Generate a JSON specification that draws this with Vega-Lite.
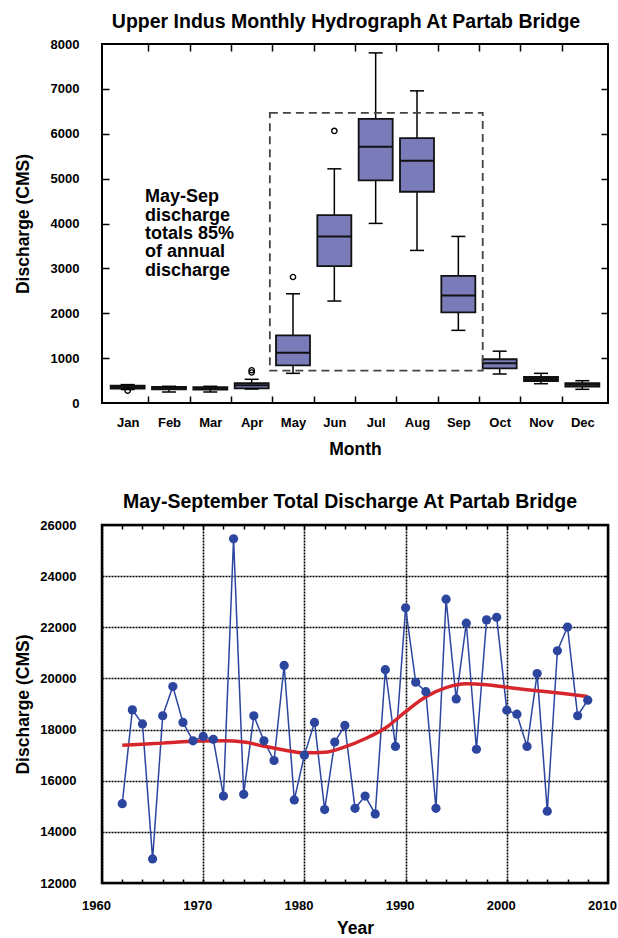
{
  "$schema": "https://vega.github.io/schema/vega-lite/v6.json",
  "background": "white",
  "padding": {"left": 12, "top": 10, "right": 0, "bottom": 0},
  "config": {
    "font": "Liberation Sans",
    "axis": {"domain": false, "grid": false, "labelFont": "Liberation Sans", "labelFontWeight": "bold", "labelFontSize": 13, "labelColor": "#000", "titleFont": "Liberation Sans", "titleFontSize": 17.5, "titleFontWeight": "bold", "titleColor": "#000", "tickColor": "#000", "tickWidth": 1.5, "labelOverlap": false, "labelFlush": false}
  },
  "datasets": {
    "boxes": [
      {"month": 1, "lower": 300, "q1": 320, "median": 355, "q3": 385, "upper": 410},
      {"month": 2, "lower": 245, "q1": 305, "median": 330, "q3": 357, "upper": 372},
      {"month": 3, "lower": 245, "q1": 300, "median": 325, "q3": 355, "upper": 372},
      {"month": 4, "lower": 312, "q1": 327, "median": 394, "q3": 445, "upper": 528},
      {"month": 5, "lower": 661, "q1": 839, "median": 1120, "q3": 1507, "upper": 2434},
      {"month": 6, "lower": 2272, "q1": 3051, "median": 3712, "q3": 4187, "upper": 5218},
      {"month": 7, "lower": 4002, "q1": 4960, "median": 5708, "q3": 6332, "upper": 7802},
      {"month": 8, "lower": 3400, "q1": 4707, "median": 5397, "q3": 5902, "upper": 6956},
      {"month": 9, "lower": 1619, "q1": 2020, "median": 2398, "q3": 2835, "upper": 3712},
      {"month": 10, "lower": 646, "q1": 770, "median": 884, "q3": 975, "upper": 1155},
      {"month": 11, "lower": 430, "q1": 490, "median": 534, "q3": 579, "upper": 661},
      {"month": 12, "lower": 305, "q1": 363, "median": 408, "q3": 445, "upper": 497}
    ],
    "outliers": [
      {"month": 1, "value": 275},
      {"month": 4, "value": 680},
      {"month": 4, "value": 730},
      {"month": 5, "value": 2808},
      {"month": 6, "value": 6062}
    ],
    "hydro": [
      {"year": 1962, "q": 15100}, {"year": 1963, "q": 18770}, {"year": 1964, "q": 18220},
      {"year": 1965, "q": 12940}, {"year": 1966, "q": 18540}, {"year": 1967, "q": 19680},
      {"year": 1968, "q": 18280}, {"year": 1969, "q": 17560}, {"year": 1970, "q": 17730},
      {"year": 1971, "q": 17620}, {"year": 1972, "q": 15400}, {"year": 1973, "q": 25460},
      {"year": 1974, "q": 15470}, {"year": 1975, "q": 18540}, {"year": 1976, "q": 17560},
      {"year": 1977, "q": 16790}, {"year": 1978, "q": 20510}, {"year": 1979, "q": 15250},
      {"year": 1980, "q": 17000}, {"year": 1981, "q": 18280}, {"year": 1982, "q": 14870},
      {"year": 1983, "q": 17510}, {"year": 1984, "q": 18160}, {"year": 1985, "q": 14920},
      {"year": 1986, "q": 15400}, {"year": 1987, "q": 14700}, {"year": 1988, "q": 20340},
      {"year": 1989, "q": 17340}, {"year": 1990, "q": 22760}, {"year": 1991, "q": 19850},
      {"year": 1992, "q": 19480}, {"year": 1993, "q": 14920}, {"year": 1994, "q": 23100},
      {"year": 1995, "q": 19200}, {"year": 1996, "q": 22160}, {"year": 1997, "q": 17230},
      {"year": 1998, "q": 22290}, {"year": 1999, "q": 22390}, {"year": 2000, "q": 18760},
      {"year": 2001, "q": 18600}, {"year": 2002, "q": 17340}, {"year": 2003, "q": 20190},
      {"year": 2004, "q": 14810}, {"year": 2005, "q": 21080}, {"year": 2006, "q": 22010},
      {"year": 2007, "q": 18540}, {"year": 2008, "q": 19150}
    ],
    "trend": [
      {"year": 1962, "q": 17390}, {"year": 1964, "q": 17430}, {"year": 1966, "q": 17470},
      {"year": 1968, "q": 17520}, {"year": 1970, "q": 17550}, {"year": 1972, "q": 17560},
      {"year": 1974, "q": 17510}, {"year": 1976, "q": 17350}, {"year": 1978, "q": 17200},
      {"year": 1980, "q": 17090}, {"year": 1982, "q": 17110}, {"year": 1984, "q": 17320},
      {"year": 1986, "q": 17640}, {"year": 1988, "q": 18060}, {"year": 1990, "q": 18700},
      {"year": 1992, "q": 19280}, {"year": 1994, "q": 19640}, {"year": 1996, "q": 19790},
      {"year": 1998, "q": 19750}, {"year": 2000, "q": 19650}, {"year": 2002, "q": 19560},
      {"year": 2004, "q": 19480}, {"year": 2006, "q": 19390}, {"year": 2008, "q": 19290}
    ],
    "frame": [{"x1": 4.44, "x2": 9.59, "y1": 720, "y2": 6465}],
    "note": [{"text": "May-Sep\ndischarge\ntotals 85%\nof annual\ndischarge"}]
  },
  "bounds": "flush",
  "spacing": 122,
  "vconcat": [
    {
      "width": 506,
      "height": 359,
      "view": {"stroke": "#000", "strokeWidth": 2},
      "title": {"text": "Upper Indus Monthly Hydrograph At Partab Bridge", "fontSize": 19.5, "fontWeight": "bold", "color": "#000", "anchor": "middle", "baseline": "alphabetic", "offset": 17, "dy": 26, "dx": -9},
      "resolve": {"axis": {"x": "independent", "y": "independent"}},
      "layer": [
        {
          "data": {"name": "boxes"},
          "mark": {"type": "rule", "color": "#000", "strokeWidth": 1.5},
          "encoding": {
            "x": {"field": "month", "type": "quantitative", "scale": {"domain": [0.5, 12.5], "nice": false, "zero": false},
              "axis": {"orient": "bottom", "values": [1,2,3,4,5,6,7,8,9,10,11,12], "labelExpr": "['','Jan','Feb','Mar','Apr','May','Jun','Jul','Aug','Sep','Oct','Nov','Dec'][datum.value]", "ticks": false, "labelPadding": 23.5, "labelBaseline": "alphabetic", "title": "Month", "titleY": 51, "titleBaseline": "alphabetic"}},
            "y": {"field": "lower", "type": "quantitative", "scale": {"domain": [0, 8000], "nice": false, "zero": false},
              "axis": {"orient": "left", "values": [0,1000,2000,3000,4000,5000,6000,7000,8000], "format": "d", "ticks": false, "labelPadding": 23, "labelBaseline": "middle", "title": "Discharge (CMS)", "titleX": -74, "titleBaseline": "alphabetic", "titleAngle": -90}},
            "y2": {"field": "upper"}
          }
        },
        {
          "data": {"name": "boxes"},
          "mark": {"type": "bar", "fill": "#7A7CB9", "stroke": "#111", "strokeWidth": 1.8, "width": 34},
          "encoding": {
            "x": {"field": "month", "type": "quantitative",
              "axis": {"orient": "bottom", "values": [1.5,2.5,3.5,4.5,5.5,6.5,7.5,8.5,9.5,10.5,11.5], "labels": false, "tickSize": -7, "title": null}},
            "y": {"field": "q1", "type": "quantitative",
              "axis": {"orient": "left", "values": [1000,2000,3000,4000,5000,6000,7000], "labels": false, "tickSize": -7, "title": null}},
            "y2": {"field": "q3"}
          }
        },
        {
          "data": {"name": "boxes"},
          "mark": {"type": "tick", "orient": "horizontal", "size": 34, "thickness": 2, "color": "#111", "opacity": 1},
          "encoding": {
            "x": {"field": "month", "type": "quantitative",
              "axis": {"orient": "top", "values": [1.5,2.5,3.5,4.5,5.5,6.5,7.5,8.5,9.5,10.5,11.5], "labels": false, "tickSize": -7, "title": null}},
            "y": {"field": "median", "type": "quantitative",
              "axis": {"orient": "right", "values": [1000,2000,3000,4000,5000,6000,7000], "labels": false, "tickSize": -7, "title": null}}
          }
        },
        {
          "data": {"name": "boxes"},
          "mark": {"type": "tick", "orient": "horizontal", "size": 14, "thickness": 1.5, "color": "#000", "opacity": 1},
          "encoding": {
            "x": {"field": "month", "type": "quantitative", "axis": null},
            "y": {"field": "upper", "type": "quantitative", "axis": null}
          }
        },
        {
          "data": {"name": "boxes"},
          "mark": {"type": "tick", "orient": "horizontal", "size": 14, "thickness": 1.5, "color": "#000", "opacity": 1},
          "encoding": {
            "x": {"field": "month", "type": "quantitative", "axis": null},
            "y": {"field": "lower", "type": "quantitative", "axis": null}
          }
        },
        {
          "data": {"name": "outliers"},
          "mark": {"type": "point", "filled": false, "stroke": "#000", "strokeWidth": 1.4, "size": 28, "opacity": 1},
          "encoding": {
            "x": {"field": "month", "type": "quantitative", "axis": null},
            "y": {"field": "value", "type": "quantitative", "axis": null}
          }
        },
        {
          "data": {"name": "frame"},
          "mark": {"type": "rect", "fill": null, "fillOpacity": 0, "stroke": "#444", "strokeWidth": 1.8, "strokeDash": [8, 5]},
          "encoding": {
            "x": {"field": "x1", "type": "quantitative", "axis": null},
            "x2": {"field": "x2"},
            "y": {"field": "y1", "type": "quantitative", "axis": null},
            "y2": {"field": "y2"}
          }
        },
        {
          "data": {"name": "note"},
          "mark": {"type": "text", "align": "left", "baseline": "top", "fontSize": 18, "fontWeight": "bold", "color": "#000", "lineBreak": "\n", "lineHeight": 18.3},
          "encoding": {
            "x": {"datum": 1.42, "type": "quantitative", "axis": null},
            "y": {"datum": 4780, "type": "quantitative", "axis": null},
            "text": {"field": "text"}
          }
        }
      ]
    },
    {
      "width": 506,
      "height": 358,
      "view": {"stroke": "#000", "strokeWidth": 2.5},
      "title": {"text": "May-September Total Discharge At Partab Bridge", "fontSize": 19.5, "fontWeight": "bold", "color": "#000", "anchor": "middle", "baseline": "alphabetic", "offset": 18, "dy": 26, "dx": -5},
      "resolve": {"axis": {"x": "independent", "y": "independent"}},
      "layer": [
        {
          "data": {"name": "hydro"},
          "mark": {"type": "line", "color": "#2C46A0", "strokeWidth": 1.5},
          "encoding": {
            "x": {"field": "year", "type": "quantitative", "scale": {"domain": [1960, 2010], "nice": false, "zero": false},
              "axis": {"orient": "bottom", "values": [1960,1970,1980,1990,2000,2010], "format": "d", "grid": true, "gridColor": "#000", "gridDash": [2, 1], "gridWidth": 1.6, "ticks": false, "labelPadding": 26, "labelOffset": -6, "labelBaseline": "alphabetic", "title": "Year", "titleY": 50, "titleBaseline": "alphabetic"}},
            "y": {"field": "q", "type": "quantitative", "scale": {"domain": [12000, 26000], "nice": false, "zero": false},
              "axis": {"orient": "left", "values": [12000,14000,16000,18000,20000,22000,24000,26000], "format": "d", "grid": true, "gridColor": "#000", "gridDash": [2, 1], "gridWidth": 1.6, "ticks": false, "labelPadding": 26, "labelBaseline": "middle", "title": "Discharge (CMS)", "titleX": -74, "titleBaseline": "alphabetic", "titleAngle": -90}}
          }
        },
        {
          "data": {"name": "trend"},
          "mark": {"type": "line", "color": "#D7262B", "strokeWidth": 3.5, "interpolate": "monotone"},
          "encoding": {
            "x": {"field": "year", "type": "quantitative",
              "axis": {"orient": "bottom", "values": [1962,1964,1966,1968,1970,1972,1974,1976,1978,1980,1982,1984,1986,1988,1990,1992,1994,1996,1998,2000,2002,2004,2006,2008], "labels": false, "tickSize": -4, "title": null}},
            "y": {"field": "q", "type": "quantitative",
              "axis": {"orient": "right", "values": [14000,16000,18000,20000,22000,24000], "labels": false, "tickSize": -4, "title": null}}
          }
        },
        {
          "data": {"name": "hydro"},
          "mark": {"type": "point", "filled": true, "color": "#2C46A0", "size": 85, "opacity": 1},
          "encoding": {
            "x": {"field": "year", "type": "quantitative",
              "axis": {"orient": "top", "values": [1962,1964,1966,1968,1970,1972,1974,1976,1978,1980,1982,1984,1986,1988,1990,1992,1994,1996,1998,2000,2002,2004,2006,2008], "labels": false, "tickSize": -4, "title": null}},
            "y": {"field": "q", "type": "quantitative", "axis": null}
          }
        }
      ]
    }
  ]
}
